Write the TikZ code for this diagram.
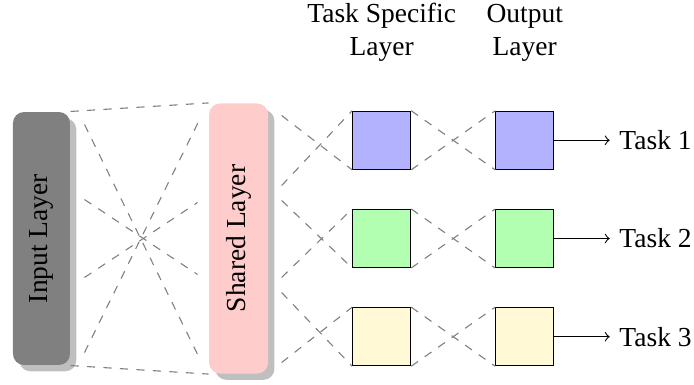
\documentclass[tikz,border=0pt]{standalone}
\usepackage{fontspec}
\setmainfont{Liberation Serif}
\usepackage{graphicx}
\usepackage{tikz}
\usetikzlibrary{positioning,shadows,calc}

\definecolor{taskyellow}{HTML}{FFF9D6}

\begin{document}
\begin{tikzpicture}[->,>=to,
    layer/.style={rounded corners,drop shadow,inner sep=0pt},
    block/.style={draw,minimum size=0.741cm,inner sep=0pt},
    head/.style={align=center,inner sep=0pt},
    link/.style={-,gray,dashed}]
                \useasboundingbox (0,0) rectangle (8.869,-4.920);
                \node[layer,fill=black!50,minimum width=0.728cm,minimum height=3.233cm] (input) at (0.530,-3.048) {\rotatebox{90}{Input Layer}};
                \node[layer,fill=red!20,minimum width=0.754cm,minimum height=3.451cm] (shared) [right=1.764cm of input] {\rotatebox{90}{Shared Layer}};

                \node[block,fill=green!30] (ts2) [right=1.067cm of shared] {};
                \node[block,fill=blue!30] (ts1) [above=0.5cm of ts2] {};
                \node[block,fill=taskyellow] (ts3) [below=0.5cm of ts2] {};
                \node[block,fill=blue!30] (out1) [right=1.073cm of ts1] {};
                \node[block,fill=green!30] (out2) [right=1.073cm of ts2] {};
                \node[block,fill=taskyellow] (out3) [right=1.073cm of ts3] {};

                \node[head] (tshead) [above=0.626cm of ts1] {Task Specific\\Layer};
                \node[head] (outhead) [above=0.626cm of out1] {Output\\Layer};

                \node (task1) [right=0.709cm of out1] {Task 1};
                \node (task2) [right=0.709cm of out2] {Task 2};
                \node (task3) [right=0.709cm of out3] {Task 3};

                % input -> shared
                \coordinate (i1) at ($(input.east)+(0.179,1.457)$);
                \coordinate (i2) at ($(input.east)+(0.179,0.498)$);
                \coordinate (i3) at ($(input.east)+(0.179,-0.498)$);
                \coordinate (i4) at ($(input.east)+(0.179,-1.457)$);
                \coordinate (h1) at ($(shared.west)+(-0.102,1.546)$);
                \coordinate (h2) at ($(shared.west)+(-0.141,0.460)$);
                \coordinate (h3) at ($(shared.west)+(-0.141,-0.460)$);
                \coordinate (h4) at ($(shared.west)+(-0.102,-1.559)$);
                \draw[link] (input.north east) -- (shared.north west);
                \draw[link] (input.south east) -- (shared.south west);
                \path[link] (i1) edge (h4)
                      (i4) edge (h1)
                      (i2) edge (h3)
                      (i3) edge (h2);

                % shared -> task specific
                \coordinate (s1) at ($(shared.east)+(0.166,1.572)$);
                \coordinate (s2) at ($(shared.east)+(0.166,0.677)$);
                \coordinate (s3) at ($(shared.east)+(0.166,0.486)$);
                \coordinate (s4) at ($(shared.east)+(0.166,-0.498)$);
                \coordinate (s5) at ($(shared.east)+(0.166,-0.690)$);
                \coordinate (s6) at ($(shared.east)+(0.166,-1.585)$);
                \path[link] (s1) edge (ts1.south west)
                      (s2) edge (ts1.north west)
                      (s3) edge (ts2.south west)
                      (s4) edge (ts2.north west)
                      (s5) edge (ts3.south west)
                      (s6) edge (ts3.north west);

                % task specific -> output
                \path[link] (ts1.north east) edge (out1.south west)
                      (ts1.south east) edge (out1.north west)
                      (ts2.north east) edge (out2.south west)
                      (ts2.south east) edge (out2.north west)
                      (ts3.north east) edge (out3.south west)
                      (ts3.south east) edge (out3.north west);

                \path (out1) edge (task1)
                      (out2) edge (task2)
                      (out3) edge (task3);
            \end{tikzpicture}
\end{document}
